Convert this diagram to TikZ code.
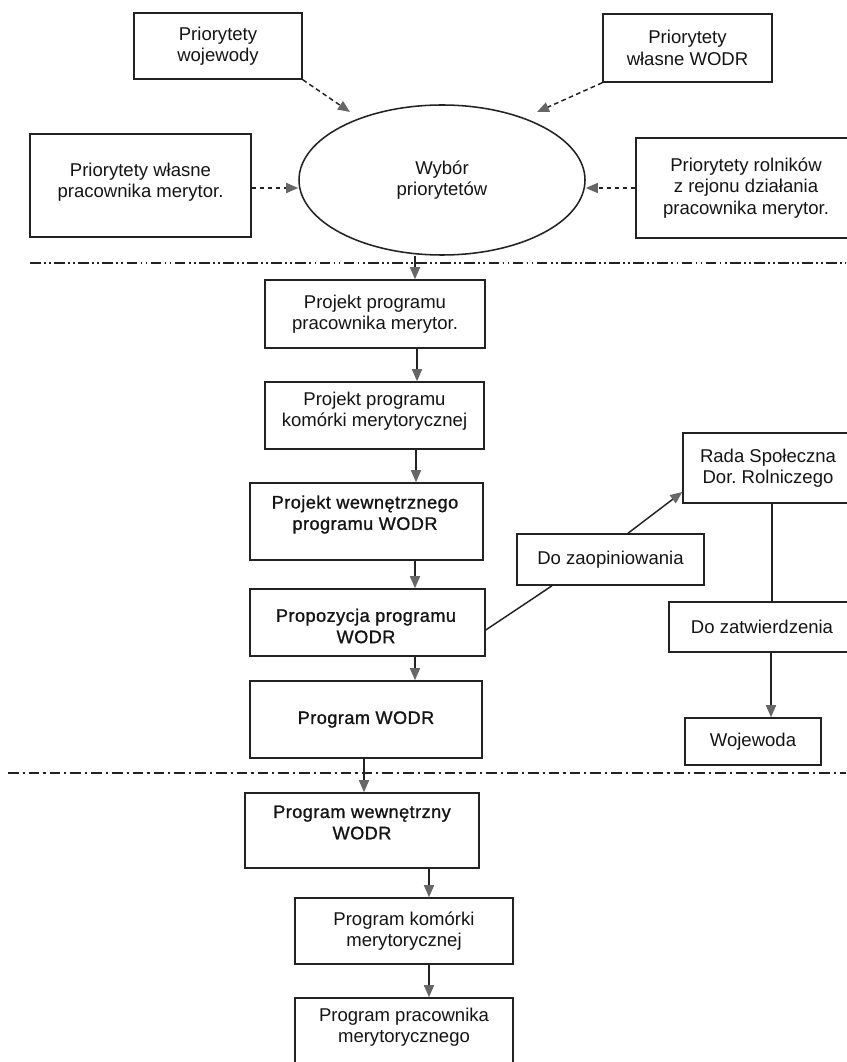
\documentclass[tikz,border=0pt]{standalone}
\usepackage{fontspec}
\setmainfont{Liberation Sans}
\newfontfamily\semibf[FakeBold=1.1,LetterSpace=2.5]{Liberation Sans}
\usetikzlibrary{shapes.geometric,arrows.meta,calc}
\definecolor{ln}{HTML}{222222}
\definecolor{ah}{HTML}{666666}
\tikzset{
  lbl/.style={font=\fontsize{13.9pt}{16pt}\selectfont, align=center, text=black!92},
  box/.style 2 args={lbl, draw=ln, line width=1.15pt, rectangle, inner sep=0pt,
    minimum width=#1*0.75pt, minimum height=#2*0.75pt},
  txt/.style={lbl, inner sep=0pt},
  semi/.style={font=\fontsize{13.6pt}{16pt}\semibf},
  arr/.style={draw=ln, line width=1.1pt, -{Triangle[length=9pt,width=7.5pt,color=ah]}},
  darr/.style={arr, dash pattern=on 3.5pt off 2.5pt},
  sepline/.style={draw=ln, line width=1.3pt, dash pattern=on 8pt off 2.5pt on 1.3pt off 2.5pt on 1.3pt off 2.5pt},
  sepline2/.style={draw=ln, line width=1.3pt, dash pattern=on 8pt off 3pt on 1.6pt off 3pt},
  con/.style={draw=ln, line width=1.1pt}
}
\begin{document}
\begin{tikzpicture}[x=0.75pt,y=-0.75pt]
\useasboundingbox (0,0) rectangle (846,1062);
\fill[white] (0,0) rectangle (846,1062);

% top part
\node[box={168}{66}] (pw) at (218,46) {Priorytety\\wojewody};
\node[box={169}{68}] (pwodr) at (687.5,48) {Priorytety\\własne WODR};
\node[box={221}{103}] (pl) at (140.5,185.5) {};
\node[txt] (plt) at (140.5,182) {Priorytety własne\\pracownika merytor.};
\node[lbl, draw=ln, line width=1.15pt, ellipse, inner sep=0pt,
      minimum width=214.5pt, minimum height=112.5pt] (ell) at (442,180) {Wybór\\priorytetów};
\node[box={220}{100}] (pr) at (746,188) {Priorytety rolników\\z rejonu działania\\pracownika merytor.};

\coordinate (t1) at (350,112);
\coordinate (t2) at (537,112);
\draw[darr] (pw.south east) -- (t1);
\draw[darr] (pwodr.south west) -- (t2);
\draw[darr] (pl.east |- 0,188) -- (ell.west |- 0,188);
\draw[darr] (pr.west |- 0,188) -- (ell.east |- 0,188);

\draw[sepline] (30,263) -- (846,263);

% middle part
\node[box={220}{68}] (b1) at (375,314) {Projekt programu\\pracownika merytor.};
\node[box={219}{67}] (b2) at (374.5,415.5) {};
\node[txt] (b2t) at (374.5,411) {Projekt programu\\komórki merytorycznej};
\node[box={233}{77}] (b3) at (366.5,521.5) {};
\node[txt, semi] (b3t) at (365,514.5) {Projekt wewnętrznego\\programu WODR};
\node[box={235}{67}] (b4) at (367.5,622.5) {};
\node[txt, semi] (b4t) at (366,626) {Propozycja programu\\WODR};
\node[box={232}{77}, semi] (b5) at (366,719.5) {Program WODR};

\node[box={187}{51}] (dz) at (610.5,559.5) {Do zaopiniowania};
\node[box={170}{70}] (rada) at (768,468) {Rada Społeczna\\Dor.\ Rolniczego};
\node[box={186}{50}] (dzat) at (762,627) {Do zatwierdzenia};
\node[box={136}{47}] (woj) at (753,741.5) {Wojewoda};

\draw[arr] (ell.south -| 415,0) -- (b1.north -| 415,0);
\draw[arr] (b1.south -| 417,0) -- (b2.north -| 417,0);
\draw[arr] (b2.south -| 416,0) -- (b3.north -| 416,0);
\draw[arr] (b3.south -| 415,0) -- (b4.north -| 415,0);
\draw[arr] (b4.south -| 415,0) -- (b5.north -| 415,0);
\draw[con] (b4.east |- 0,630) -- (dz.south -| 552,0);
\draw[arr] (dz.north -| 628,0) -- (rada.west |- 0,492);
\draw[con] (rada.south -| 772,0) -- (dzat.north -| 772,0);
\draw[arr] (dzat.south -| 771,0) -- (woj.north -| 771,0);

\draw[sepline2] (8,773) -- (846,773);

% bottom part
\node[box={234}{75}] (c1) at (362,830.5) {};
\node[txt, semi] (c1t) at (362,822.5) {Program wewnętrzny\\WODR};
\node[box={218}{66}] (c2) at (404,931) {Program komórki\\merytorycznej};
\node[box={218}{92}] (c3) at (404,1044) {};
\node[txt] (c3t) at (404,1027) {Program pracownika\\merytorycznego};

\draw[arr] (b5.south -| 364,0) -- (c1.north -| 364,0);
\draw[arr] (c1.south -| 429,0) -- (c2.north -| 429,0);
\draw[arr] (c2.south -| 429,0) -- (c3.north -| 429,0);
\end{tikzpicture}
\end{document}
